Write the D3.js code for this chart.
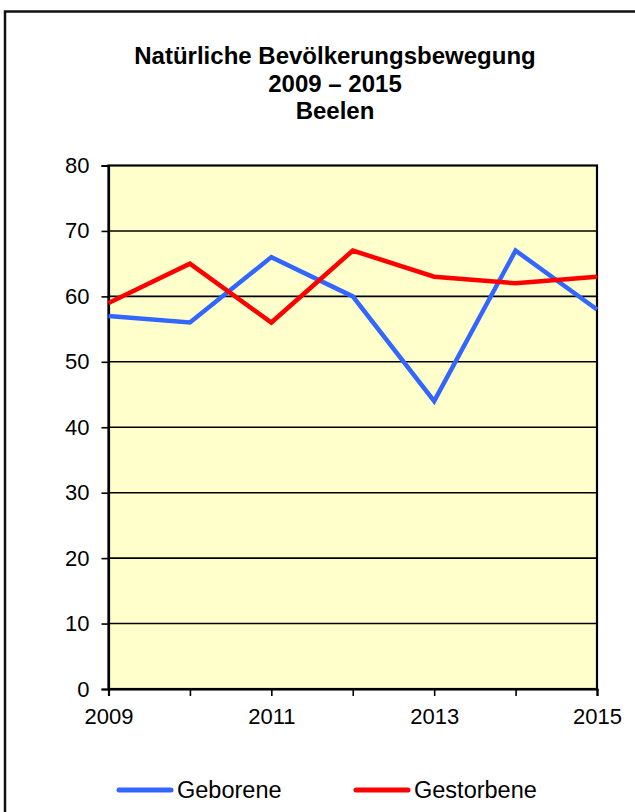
<!DOCTYPE html>
<html><head><meta charset="utf-8">
<script src="https://cdn.jsdelivr.net/npm/d3@7"></script>
<style>body{margin:0;background:#fff}svg{display:block}text{font-family:"Liberation Sans",Arial,sans-serif}</style>
</head><body>
<script>
const years = [2009, 2010, 2011, 2012, 2013, 2014, 2015];
const geborene = [57, 56, 66, 60, 44, 67, 58];
const gestorbene = [59, 65, 56, 67, 63, 62, 63];
const yTicks = [0, 10, 20, 30, 40, 50, 60, 70, 80];
const xLabels = [2009, 2011, 2013, 2015];
const titleLines = ["Natürliche Bevölkerungsbewegung", "2009 – 2015", "Beelen"];
const seriesNames = ["Geborene", "Gestorbene"];

const W = 635, H = 812;
const svg = d3.select("body").append("svg").attr("width", W).attr("height", H);
svg.append("rect").attr("x", 5).attr("y", 11.5).attr("width", W + 10).attr("height", H + 10)
  .attr("fill", "#fff").attr("stroke", "#111").attr("stroke-width", 2.5);

const m = {l: 108.5, r: 597, t: 165.5, b: 689};
const x = d3.scaleLinear().domain([2009, 2015]).range([m.l, m.r]);
const y = d3.scaleLinear().domain([0, 80]).range([m.b, m.t]);

svg.append("rect").attr("x", m.l).attr("y", m.t).attr("width", m.r - m.l).attr("height", m.b - m.t)
  .attr("fill", "#FFFFCC");

// gridlines
svg.append("g").selectAll("line").data(yTicks.filter(d => d > 0 && d < 80)).join("line")
  .attr("x1", m.l).attr("x2", m.r).attr("y1", d => y(d)).attr("y2", d => y(d))
  .attr("stroke", "#000").attr("stroke-width", 1.6);

// frame
svg.append("rect").attr("x", m.l).attr("y", m.t).attr("width", m.r - m.l).attr("height", m.b - m.t)
  .attr("fill", "none").attr("stroke", "#000").attr("stroke-width", 2.2);

// y axis
const yAxis = d3.axisLeft(y).tickValues(yTicks).tickSize(7).tickPadding(12);
const gy = svg.append("g").attr("transform", `translate(${m.l},0)`).call(yAxis);
gy.select(".domain").attr("stroke-width", 2.2);
gy.selectAll(".tick line").attr("stroke-width", 1.6);
gy.selectAll("text").attr("font-size", 22).attr("fill", "#000").attr("font-family", "Liberation Sans, Arial, sans-serif");

// x axis
const xAxis = d3.axisBottom(x).tickValues(years).tickSize(7).tickPadding(12)
  .tickFormat(d => xLabels.includes(d) ? String(d) : "");
const gx = svg.append("g").attr("transform", `translate(0,${m.b})`).call(xAxis);
gx.select(".domain").attr("stroke-width", 2.2);
gx.selectAll(".tick line").attr("stroke-width", 1.6);
gx.selectAll("text").attr("font-size", 22).attr("fill", "#000").attr("font-family", "Liberation Sans, Arial, sans-serif");

const line = d3.line().x((d, i) => x(years[i])).y(d => y(d));
svg.append("path").datum(geborene).attr("d", line).attr("fill", "none")
  .attr("stroke", "#3366FF").attr("stroke-width", 4.5).attr("stroke-linejoin", "miter");
svg.append("path").datum(gestorbene).attr("d", line).attr("fill", "none")
  .attr("stroke", "#FF0000").attr("stroke-width", 4.5).attr("stroke-linejoin", "miter");

// title
svg.append("g").selectAll("text").data(titleLines).join("text")
  .attr("x", 335).attr("y", (d, i) => 64 + i * 27.5).attr("text-anchor", "middle")
  .attr("font-size", 24).attr("font-weight", "bold").attr("fill", "#000").text(d => d);

// legend
const legend = [{name: seriesNames[0], color: "#3366FF", x: 119}, {name: seriesNames[1], color: "#FF0000", x: 356}];
const lg = svg.append("g").selectAll("g").data(legend).join("g");
lg.append("line").attr("x1", d => d.x).attr("x2", d => d.x + 52).attr("y1", 790).attr("y2", 790)
  .attr("stroke", d => d.color).attr("stroke-width", 5).attr("stroke-linecap", "round");
lg.append("text").attr("x", d => d.x + 58).attr("y", 798).attr("font-size", 23.5).attr("fill", "#000")
  .text(d => d.name);
</script>
</body></html>
